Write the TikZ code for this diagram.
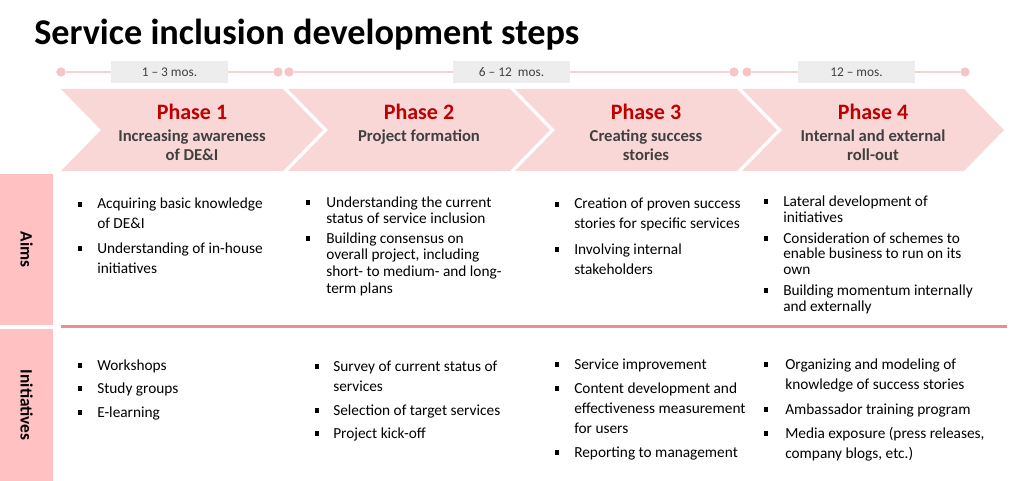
\documentclass[tikz,border=0pt]{standalone}
\usepackage{fontspec}
\setmainfont{Carlito}
\definecolor{chevfill}{HTML}{FAD7D7}
\definecolor{phasered}{HTML}{C00000}
\definecolor{subgray}{HTML}{404040}
\definecolor{sidepink}{HTML}{FFC1C1}
\definecolor{seppink}{HTML}{F28C8C}
\definecolor{tlpink}{HTML}{F9D3D3}
\definecolor{dotpink}{HTML}{F6C5C5}
\definecolor{lblgray}{HTML}{EDEDED}
\newcommand{\blines}[2]{\parbox[t]{260pt}{\fontsize{11.5}{#1}\selectfont\raggedright #2}}
\newcommand{\clines}[1]{\parbox[t]{190pt}{\centering\bfseries\fontsize{12.5}{14}\selectfont #1}}
\begin{document}
\begin{tikzpicture}[x=0.75pt,y=-0.75pt,
  chev/.style={fill=chevfill,draw=none},
  bul/.style={rectangle,fill=black,inner sep=0pt,minimum size=3.6pt},
  body/.style={anchor=base west,inner sep=0pt,text=black},
  tldot/.style={circle,fill=dotpink,inner sep=0pt,minimum size=7pt},
  tlline/.style={draw=tlpink,line width=2.2pt},
  lbl/.style={fill=lblgray,inner sep=0pt,minimum width=87.75pt,minimum height=16.5pt,
    font=\fontsize{10}{12}\selectfont,text=subgray},
  phase/.style={anchor=base,inner sep=0pt,text=phasered,font=\bfseries\fontsize{16.5}{18}\selectfont},
  sub/.style={anchor=base,inner sep=0pt,text=subgray},
  side/.style={fill=sidepink,inner sep=0pt,anchor=north west,minimum width=39.75pt},
  sidetxt/.style={rotate=-90,font=\bfseries\fontsize{13}{15}\selectfont,text=black}
]
\useasboundingbox (0,0) rectangle (1024,481);

% title
\node[anchor=base west,inner sep=0pt,font=\bfseries\fontsize{27.2}{30}\selectfont] (title) at (34,45) {Service inclusion development steps};

% timeline
\node[tldot] (d1) at (61,72) {};
\node[tldot] (d2) at (278,72) {};
\node[tldot] (d3) at (289,72) {};
\node[tldot] (d4) at (734,72) {};
\node[tldot] (d5) at (747,72) {};
\node[tldot] (d6) at (965,72) {};
\draw[tlline] (d1) -- (d2);
\draw[tlline] (d3) -- (d4);
\draw[tlline] (d5) -- (d6);
\node[lbl] (l1) at (169.5,72) {1 -- 3 mos.};
\node[lbl] (l2) at (511.5,72) {6 -- 12~ mos.};
\node[lbl] (l3) at (856.5,72) {12 -- mos.};

% chevrons
\foreach \x in {61,288,515,742}{
  \fill[chev] (\x,89) -- ++(222,0) -- ++(40,41) -- ++(-40,41) -- ++(-222,0) -- ++(40,-41) -- cycle;
}
\node[phase] (p1) at (192,120) {Phase 1};
\node[phase] (p2) at (419,120) {Phase 2};
\node[phase] (p3) at (646,120) {Phase 3};
\node[phase] (p4) at (873,120) {Phase 4};
\node[sub] (s1) at (192,142) {\clines{Increasing awareness\\of DE\&I}};
\node[sub] (s2) at (419,142) {\clines{Project formation}};
\node[sub] (s3) at (646,142) {\clines{Creating success\\stories}};
\node[sub] (s4) at (873,142) {\clines{Internal and external\\roll-out}};

% side labels
\node[side,minimum height=113.25pt] (aimsbox) at (0,174) {};
\node[side,minimum height=114pt] (inibox) at (0,329) {};
\node[sidetxt] (aims) at (aimsbox.center) {Aims};
\node[sidetxt] (ini) at (inibox.center) {Initiatives};

% separator
\coordinate (sepL) at (61,326.5);
\coordinate (sepR) at (1007,326.5);
\draw[seppink,line width=1.6pt] (sepL) -- (sepR);

% Aims items
\node[body] (a1a) at (97,209) {\blines{15}{Acquiring basic knowledge\\of DE\&I}};
\node[bul] at (80,204.5) {};
\node[body] (a1b) at (97,253) {\blines{15}{Understanding of in-house\\initiatives}};
\node[bul] at (80,248.5) {};

\node[body] (a2a) at (326,207) {\blines{12.5}{Understanding the current\\status of service inclusion}};
\node[bul] at (308,202.5) {};
\node[body] (a2b) at (326,243) {\blines{12.5}{Building consensus on\\overall project, including\\short- to medium- and long-\\term plans}};
\node[bul] at (308,238.5) {};

\node[body] (a3a) at (574,209) {\blines{15}{Creation of proven success\\stories for specific services}};
\node[bul] at (557,204.5) {};
\node[body] (a3b) at (574,254) {\blines{15}{Involving internal\\stakeholders}};
\node[bul] at (557,249.5) {};

\node[body] (a4a) at (783,206) {\blines{12}{Lateral development of\\initiatives}};
\node[bul] at (766,201.5) {};
\node[body] (a4b) at (783,243) {\blines{12}{Consideration of schemes to\\enable business to run on its\\own}};
\node[bul] at (766,238.5) {};
\node[body] (a4c) at (783,295) {\blines{12}{Building momentum internally\\and externally}};
\node[bul] at (766,290.5) {};

% Initiatives items
\node[body] (i1a) at (97,370) {\blines{15}{Workshops}};
\node[bul] at (80,365.5) {};
\node[body] (i1b) at (97,393) {\blines{15}{Study groups}};
\node[bul] at (80,388.5) {};
\node[body] (i1c) at (97,417) {\blines{15}{E-learning}};
\node[bul] at (80,412.5) {};

\node[body] (i2a) at (333,371) {\blines{15}{Survey of current status of\\services}};
\node[bul] at (317,366.5) {};
\node[body] (i2b) at (333,415) {\blines{15}{Selection of target services}};
\node[bul] at (317,410.5) {};
\node[body] (i2c) at (333,438) {\blines{15}{Project kick-off}};
\node[bul] at (317,433.5) {};

\node[body] (i3a) at (574,369) {\blines{15}{Service improvement}};
\node[bul] at (557,364.5) {};
\node[body] (i3b) at (574,393) {\blines{15}{Content development and\\effectiveness measurement\\for users}};
\node[bul] at (557,388.5) {};
\node[body] (i3c) at (574,457) {\blines{15}{Reporting to management}};
\node[bul] at (557,452.5) {};

\node[body] (i4a) at (785,369) {\blines{15.5}{Organizing and modeling of\\knowledge of success stories}};
\node[bul] at (766,364.5) {};
\node[body] (i4b) at (785,414) {\blines{15.5}{Ambassador training program}};
\node[bul] at (766,409.5) {};
\node[body] (i4c) at (785,438) {\blines{15.5}{Media exposure (press releases,\\company blogs, etc.)}};
\node[bul] at (766,433.5) {};
\end{tikzpicture}
\end{document}
